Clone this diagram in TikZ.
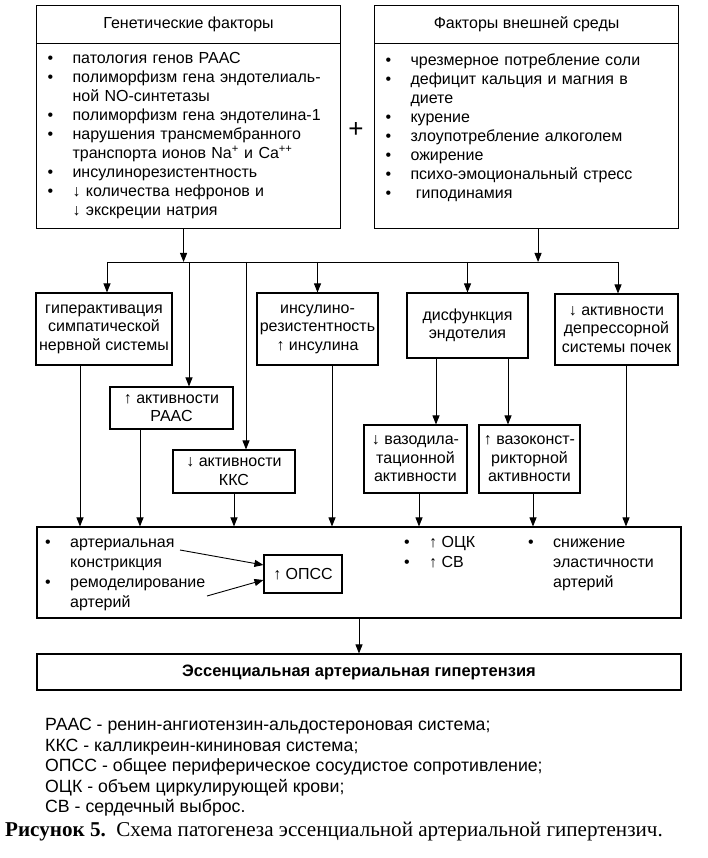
\documentclass[tikz,border=0pt]{standalone}
\usepackage{fontspec}
\setmainfont{Liberation Sans}
\newfontfamily\capfont{Liberation Serif}
\usetikzlibrary{arrows.meta, positioning, calc}

\newcommand{\blt}{\makebox[25pt][l]{\textbullet}}
\newcommand{\ind}{\hspace*{25pt}}

\begin{document}
\begin{tikzpicture}[
    x=1pt, y=-1pt,
    font=\fontsize{16}{19}\selectfont,
    head/.style={rectangle, draw, line width=1.1pt, minimum width=304pt, minimum height=38pt, anchor=north west},
    factors/.style={rectangle, draw, line width=1.1pt, minimum width=304pt, minimum height=185pt, anchor=north west, align=left, text width=282pt, inner xsep=11pt, inner ysep=0pt},
    mech/.style={rectangle, draw, line width=1.1pt, align=center, inner sep=1pt, font=\fontsize{16}{18.5}\selectfont},
    txt/.style={anchor=north west, align=left, inner sep=0pt, font=\fontsize{16}{19.7}\selectfont},
    edge/.style={line width=0.9pt},
    arrow/.style={edge, -{Triangle[length=9pt, width=7pt]}}
]
\useasboundingbox (0,0) rectangle (708,858);

% Factors
\node[head] (genhead) at (36,5) {Генетические факторы};
\node[factors] (genlist) at (36,43) {\blt патология генов РААС\\
\blt полиморфизм гена эндотелиаль-\\
\ind ной NO-синтетазы\\
\blt полиморфизм гена эндотелина-1\\
\blt нарушения трансмембранного\\
\ind транспорта ионов Na\textsuperscript{+} и Ca\textsuperscript{++}\\
\blt инсулинорезистентность\\
\blt ↓ количества нефронов и\\
\ind ↓ экскреции натрия};
\node[head] (envhead) at (374,5) {Факторы внешней среды};
\node[factors] (envlist) at (374,43) {\blt чрезмерное потребление соли\\
\blt дефицит кальция и магния в\\
\ind диете\\
\blt курение\\
\blt злоупотребление алкоголем\\
\blt ожирение\\
\blt психо-эмоциональный стресс\\
\blt \ гиподинамия\\
\mbox{}};
\node (plus) at (356,130) {\fontsize{26}{26}\selectfont +};

% Mechanisms
\node[mech, minimum width=136pt, minimum height=72pt] (sympat) at (104,329) {гиперактивация\\симпатической\\нервной системы};
\node[mech, minimum width=121pt, minimum height=72pt] (insul) at (317.5,329) {инсулино-\\резистентность\\↑ инсулина};
\node[mech, minimum width=121pt, minimum height=65pt] (endo) at (467.5,325.5) {дисфункция\\эндотелия};
\node[mech, minimum width=123pt, minimum height=71pt] (depr) at (616.5,329.5) {↓ активности\\депрессорной\\системы почек};
\node[mech, minimum width=123pt, minimum height=42pt] (raas) at (171.5,408) {↑ активности\\РААС};
\node[mech, minimum width=122pt, minimum height=43pt] (kks) at (234,471.5) {↓ активности\\ККС};
\node[mech, minimum width=103pt, minimum height=68pt] (vdil) at (415.5,459) {↓ вазодила-\\тационной\\активности};
\node[mech, minimum width=101pt, minimum height=68pt] (vcon) at (529.5,459) {↑ вазоконст-\\рикторной\\активности};

% Effects
\node[mech, minimum width=644pt, minimum height=91pt] (effects) at (359,572.5) {};
\node[txt] (vessel) at (45,534) {\strut\blt артериальная\\ \ind констрикция\\ \blt ремоделирование\\ \ind артерий};
\node[mech, minimum width=78pt, minimum height=38pt] (opss) at (303,574) {↑ ОПСС};
\node[txt] (volume) at (404,534) {\strut\blt ↑ ОЦК\\ \blt ↑ СВ};
\node[txt] (elast) at (528,534) {\strut\blt снижение\\ \ind эластичности\\ \ind артерий};
\node[mech, minimum width=644pt, minimum height=36pt, font=\fontsize{16.5}{18}\selectfont\bfseries] (final) at (359,672) {Эссенциальная артериальная гипертензия};

% Legend
\node[anchor=north west, align=left, inner sep=0pt, font=\fontsize{17.7}{20.6}\selectfont] (legend) at (45,718) {РААС - ренин-ангиотензин-альдостероновая система;\\
ККС - калликреин-кининовая система;\\
ОПСС - общее периферическое сосудистое сопротивление;\\
ОЦК - объем циркулирующей крови;\\
СВ - сердечный выброс.};
\node[anchor=base west, inner sep=0pt, font=\capfont\fontsize{21.1}{22}\selectfont] (caption) at (5,836) {\textbf{Рисунок 5.}\ \ Схема патогенеза эссенциальной артериальной гипертензич.};

% Edges factors
\coordinate (busL) at (107,262);
\coordinate (busR) at (618,262);
\draw[edge] (busL) -- (busR);
\draw[arrow] ([xshift=-5pt]genlist.south) coordinate (g1) -- (g1 |- busL);
\draw[arrow] ([xshift=11.5pt]envlist.south) coordinate (g2) -- (g2 |- busL);

% Edges mechanisms
\draw[arrow] (busL) -- (busL |- sympat.north);
\path ([xshift=17.5pt]raas.north) coordinate (t1);
\draw[arrow] (t1 |- busL) -- (t1);
\path ([xshift=12pt]kks.north) coordinate (t2);
\draw[arrow] (t2 |- busL) -- (t2);
\draw[arrow] (insul.north |- busL) -- (insul.north);
\draw[arrow] (endo.north |- busL) -- (endo.north);
\draw[arrow] (busR) -- (busR |- depr.north);
\draw[arrow] ([xshift=-31.5pt]endo.south) coordinate (e1) -- (e1 |- vdil.north);
\draw[arrow] ([xshift=40.5pt]endo.south) coordinate (e2) -- (e2 |- vcon.north);

% Edges effects
\draw[arrow] ([xshift=-24pt]sympat.south) coordinate (o1) -- (o1 |- effects.north);
\draw[arrow] ([xshift=-31.5pt]raas.south) coordinate (o2) -- (o2 |- effects.north);
\draw[arrow] (kks.south) -- (kks.south |- effects.north);
\draw[arrow] ([xshift=14.5pt]insul.south) coordinate (o3) -- (o3 |- effects.north);
\draw[arrow] ([xshift=3.5pt]vdil.south) coordinate (o4) -- (o4 |- effects.north);
\draw[arrow] ([xshift=3.5pt]vcon.south) coordinate (o5) -- (o5 |- effects.north);
\draw[arrow] ([xshift=9.5pt]depr.south) coordinate (o6) -- (o6 |- effects.north);
\coordinate (a1) at (180,550);
\coordinate (a2) at (207,596);
\draw[arrow] (a1) -- ([yshift=9pt]opss.west);
\draw[arrow] (a2) -- ([yshift=-6pt]opss.west);
\draw[arrow] (effects.south) -- (final.north);

\end{tikzpicture}
\end{document}
